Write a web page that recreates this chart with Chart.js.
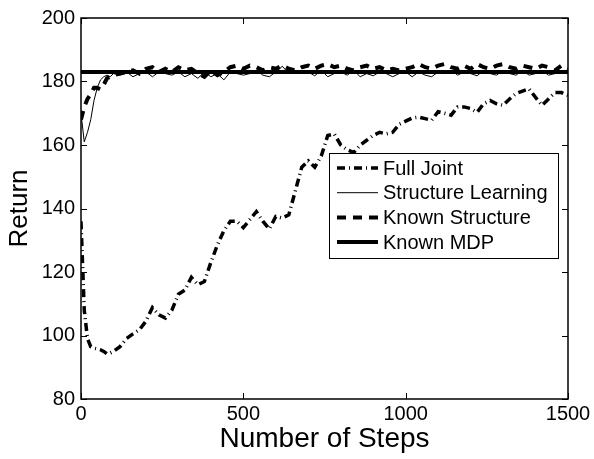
<!DOCTYPE html>
<html>
<head>
<meta charset="utf-8">
<script src="https://cdn.jsdelivr.net/npm/chart.js@4"></script>
<style>
  body { margin: 0; background: #fff; }
  canvas { display: block; }
</style>
</head>
<body>
<canvas id="returnChart" width="594" height="459"></canvas>
<script>
const steps = [
  0, 10, 20, 30, 40, 50, 60, 70, 80, 90,
  100, 120, 140, 160, 180, 200, 220, 240, 260, 280,
  300, 320, 340, 360, 380, 400, 420, 440, 460, 480,
  500, 520, 540, 560, 580, 600, 620, 640, 660, 680,
  700, 720, 740, 760, 780, 800, 820, 840, 860, 880,
  900, 920, 940, 960, 980, 1000, 1020, 1040, 1060, 1080,
  1100, 1120, 1140, 1160, 1180, 1200, 1220, 1240, 1260, 1280,
  1300, 1320, 1340, 1360, 1380, 1400, 1420, 1440, 1460, 1480,
  1500
];

const fullJoint = [
  136, 108, 99, 96.5, 96, 95.8, 95.5, 95, 94.2, 94.5,
  95, 96.5, 99, 100.5, 101.8, 104.5, 108.8, 106.5, 105.5, 108,
  113, 114.3, 118.3, 116, 117, 123, 128.5, 133, 136, 136,
  134, 136.5, 139, 136, 133.5, 137.5, 137, 138, 145.5, 153,
  155, 153, 156.5, 163, 163.5, 160, 158.5, 157.6, 160, 161.5,
  163, 164, 163.5, 164, 166.5, 167.5, 168.5, 168.8, 168.3, 167.8,
  170.5, 170, 169.4, 172, 172, 171.5, 170.3, 173, 174, 173,
  172.5, 174.5, 176.2, 177, 177.7, 175, 172.5, 174.5, 176.5, 176.5,
  175.6
];

const structureLearning = [
  170, 161, 164, 168, 174, 178, 180.5, 181.5, 182, 181.5,
  182.5, 182, 183, 181.5, 182.5, 183, 181.5, 183, 182.5, 182,
  183, 181.5, 182.5, 181, 183, 181.5, 182.5, 180.5, 183, 182.5,
  182, 182.5, 183.5, 182, 181.5, 183, 184.8, 182.5, 183, 182.5,
  183, 181.8, 183.5, 181.5, 182.5, 183, 182, 183.5, 181.5, 182.5,
  181.8, 183, 182.5, 181.5, 182.5, 183, 181.5, 183, 182, 181.5,
  183, 182.5, 183.5, 182, 183, 182.5, 181.8, 183.5, 182.5, 182,
  183.5, 182.5, 182, 183.5, 182, 182.5, 183.5, 182, 182.5, 183,
  182.5
];

const knownStructure = [
  168, 172, 174.5, 176, 178, 178, 177.5, 179, 181, 181.5,
  182, 182.5, 183, 183.5, 182.5, 184, 184.5, 183, 184, 183,
  184.5, 183.5, 184, 182.5, 181.5, 183.5, 182, 183, 184.5, 185,
  184, 185, 184.5, 183.5, 184.5, 184, 185, 184, 183.5, 184.5,
  185, 184, 185, 185.5, 184.5, 185, 184, 183.5, 184.5, 185,
  184, 184.5, 183.5, 184, 183.5, 184, 184.5, 185.5, 184.5, 184,
  185, 185.5, 184.5, 184, 185, 184, 185.5, 184.5, 184, 185,
  185.5, 184.5, 184, 185, 184.5, 184, 185, 184.5, 183.5, 185,
  184
];

const mdpSteps = [0, 1500];
const knownMdp = [183, 183];

const xTicks = [0, 500, 1000, 1500];
const yTicks = [80, 100, 120, 140, 160, 180, 200];

const FONT = "'Liberation Sans', Arial, Helvetica, sans-serif";

const toPoints = (xs, ys) => xs.map((x, i) => ({ x: x, y: ys[i] }));

// matlab style frame: box around the axes with inward ticks on all four sides
const framePlugin = {
  id: "frame",
  afterDraw(chart) {
    const { ctx, chartArea: a, scales } = chart;
    const len = 6;
    ctx.save();
    ctx.strokeStyle = "#000";
    ctx.lineWidth = 1;
    ctx.beginPath();
    xTicks.forEach(v => {
      const x = Math.round(scales.x.getPixelForValue(v)) + 0.5;
      ctx.moveTo(x, a.bottom); ctx.lineTo(x, a.bottom - len);
      ctx.moveTo(x, a.top); ctx.lineTo(x, a.top + len);
    });
    yTicks.forEach(v => {
      const y = Math.round(scales.y.getPixelForValue(v)) + 0.5;
      ctx.moveTo(a.left, y); ctx.lineTo(a.left + len, y);
      ctx.moveTo(a.right, y); ctx.lineTo(a.right - len, y);
    });
    ctx.stroke();
    ctx.lineWidth = 1.5;
    ctx.strokeRect(a.left, a.top, a.right - a.left, a.bottom - a.top);
    ctx.restore();
  }
};

// legend box sitting inside the plot, right of centre
const legendPlugin = {
  id: "insideLegend",
  afterDraw(chart) {
    const { ctx } = chart;
    const box = { x: 329.5, y: 153.5, w: 229, h: 105 };
    ctx.save();
    ctx.fillStyle = "#fff";
    ctx.fillRect(box.x, box.y, box.w, box.h);
    ctx.strokeStyle = "#000";
    ctx.lineWidth = 1;
    ctx.strokeRect(box.x, box.y, box.w, box.h);
    ctx.font = "20px " + FONT;
    ctx.textBaseline = "middle";
    ctx.fillStyle = "#000";
    chart.data.datasets.forEach((ds, i) => {
      const y = 168 + i * 24.7;
      ctx.beginPath();
      ctx.setLineDash(ds.borderDash || []);
      ctx.lineWidth = ds.borderWidth;
      ctx.strokeStyle = ds.borderColor;
      ctx.moveTo(337, y);
      ctx.lineTo(378, y);
      ctx.stroke();
      ctx.setLineDash([]);
      ctx.fillText(ds.label, 383, y + 1);
    });
    ctx.restore();
  }
};

new Chart(document.getElementById("returnChart"), {
  type: "line",
  data: {
    datasets: [
      {
        label: "Full Joint",
        data: toPoints(steps, fullJoint),
        borderColor: "#000",
        borderWidth: 3.5,
        borderDash: [8, 4, 1, 4]
      },
      {
        label: "Structure Learning",
        data: toPoints(steps, structureLearning),
        borderColor: "#000",
        borderWidth: 1
      },
      {
        label: "Known Structure",
        data: toPoints(steps, knownStructure),
        borderColor: "#000",
        borderWidth: 4,
        borderDash: [9, 7]
      },
      {
        label: "Known MDP",
        data: toPoints(mdpSteps, knownMdp),
        borderColor: "#000",
        borderWidth: 4
      }
    ]
  },
  options: {
    responsive: false,
    animation: false,
    devicePixelRatio: 1,
    elements: { point: { radius: 0 }, line: { tension: 0, fill: false } },
    layout: { padding: { left: 0, right: 26, top: 11, bottom: 0 } },
    plugins: { legend: { display: false }, tooltip: { enabled: false } },
    scales: {
      x: {
        type: "linear",
        min: 0,
        max: 1500,
        afterBuildTicks: s => { s.ticks = xTicks.map(v => ({ value: v })); },
        afterFit: s => { s.height = 60; },
        grid: { display: false, drawTicks: false },
        border: { display: false },
        ticks: {
          color: "#000",
          font: { family: FONT, size: 20 },
          padding: 3,
          maxRotation: 0,
          callback: v => String(v)
        },
        title: {
          display: true,
          text: "Number of Steps",
          color: "#000",
          font: { family: FONT, size: 28 },
          padding: { top: 0, bottom: 3 }
        }
      },
      y: {
        min: 80,
        max: 200,
        afterBuildTicks: s => { s.ticks = yTicks.map(v => ({ value: v })); },
        afterFit: s => { s.width = 81; },
        grid: { display: false, drawTicks: false },
        border: { display: false },
        ticks: {
          color: "#000",
          font: { family: FONT, size: 20 },
          padding: 6,
          callback: v => String(v)
        },
        title: {
          display: true,
          text: "Return",
          color: "#000",
          font: { family: FONT, size: 26 },
          padding: { top: 4, bottom: 0 }
        }
      }
    }
  },
  plugins: [framePlugin, legendPlugin]
});
</script>
</body>
</html>
